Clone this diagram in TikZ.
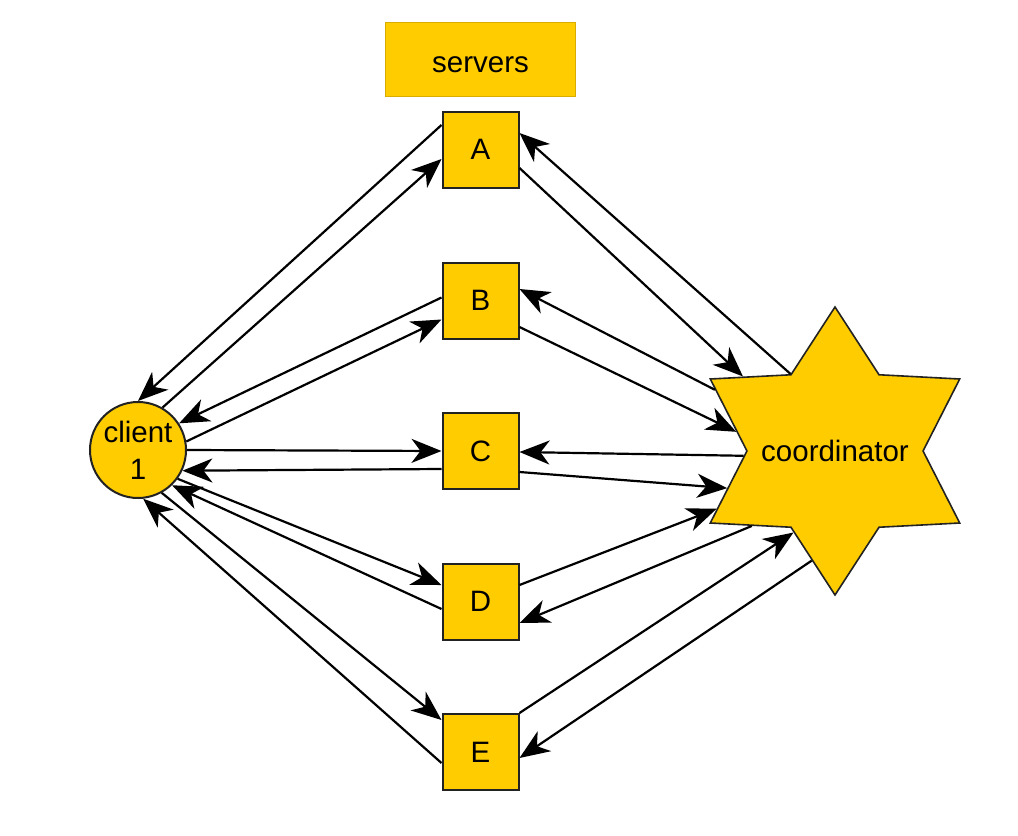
\documentclass[tikz,border=0pt]{standalone}
\usepackage{fontspec}
\setmainfont{Liberation Sans}
\usetikzlibrary{shapes.geometric,arrows.meta,calc}
\definecolor{gold}{HTML}{FFCC00}
\definecolor{goldedge}{HTML}{D9AC00}
\definecolor{boxedge}{HTML}{222222}
\tikzset{
  srvbox/.style={rectangle,fill=gold,draw=boxedge,line width=2bp,minimum width=76bp,minimum height=76bp,inner sep=0pt,font=\fontsize{29.6}{34}\selectfont},
  titlebox/.style={rectangle,fill=gold,draw=goldedge,line width=1.8bp,minimum width=190bp,minimum height=74bp,inner sep=0pt,text height=25bp,text depth=0bp,font=\fontsize{29.6}{34}\selectfont},
  clientnode/.style={circle,fill=gold,draw=boxedge,line width=2bp,minimum size=96bp,inner sep=0pt,align=center,font=\fontsize{29.6}{37}\selectfont},
  coordnode/.style={star,star points=6,star point ratio=1.636,fill=gold,draw=boxedge,line width=1.6bp,minimum size=288bp,inner sep=0pt,font=\fontsize{29.6}{34}\selectfont},
  msg/.style={line width=2.2bp,-{Stealth[length=30bp,width=24bp,inset=9bp]}}
}
\begin{document}
\begin{tikzpicture}[x=1bp,y=-1bp]
\useasboundingbox (0,0) rectangle (1018,836);
\node[titlebox] (srv) at (480.5,59.5) {servers};
\node[srvbox] (A) at (480.5,149.5) {A};
\node[srvbox] (B) at (480.5,300.5) {B};
\node[srvbox] (C) at (480.5,451) {C};
\node[srvbox] (D) at (480.5,601.5) {D};
\node[srvbox] (E) at (480.5,752) {E};
\node[clientnode] (client) at (138,450) {client\\1};
\node[coordnode] (coord) at (835,451) {\makebox[0pt]{coordinator}};
% client side
\draw[msg] ($(A.west)+(0,-24.5)$) -- (client.90);
\draw[msg] (client.60) -- ($(A.west)+(0,9.5)$);
\draw[msg] ($(B.west)+(0,-3)$) -- (client.33);
\draw[msg] (client.10) -- ($(B.west)+(0,19)$);
\draw[msg] (client.0) -- (C.west);
\draw[msg] ($(C.west)+(0,18)$) -- (client.-25);
\draw[msg] (client.-36) -- ($(D.west)+(0,-16.5)$);
\draw[msg] ($(D.west)+(0,7.5)$) -- (client.-46);
\draw[msg] (client.-61) -- ($(E.west)+(0,-32)$);
\draw[msg] ($(E.west)+(0,11)$) -- (client.-84);
% coordinator side
\draw[msg] (coord.120) -- ($(A.east)+(0,-16.5)$);
\draw[msg] ($(A.east)+(0,18.5)$) -- (coord.141);
\draw[msg] (coord.153) -- ($(B.east)+(0,-11.5)$);
\draw[msg] ($(B.east)+(0,26.5)$) -- (coord.169);
\draw[msg] (coord.183) -- ($(C.east)+(0,1)$);
\draw[msg] ($(C.east)+(0,21)$) -- (coord.199);
\draw[msg] ($(D.east)+(0,-16.5)$) -- (coord.206);
\draw[msg] (coord.222) -- ($(D.east)+(0,21.5)$);
\draw[msg] (E.north east) -- (coord.243);
\draw[msg] (coord.258) -- ($(E.east)+(0,6)$);
\end{tikzpicture}
\end{document}
